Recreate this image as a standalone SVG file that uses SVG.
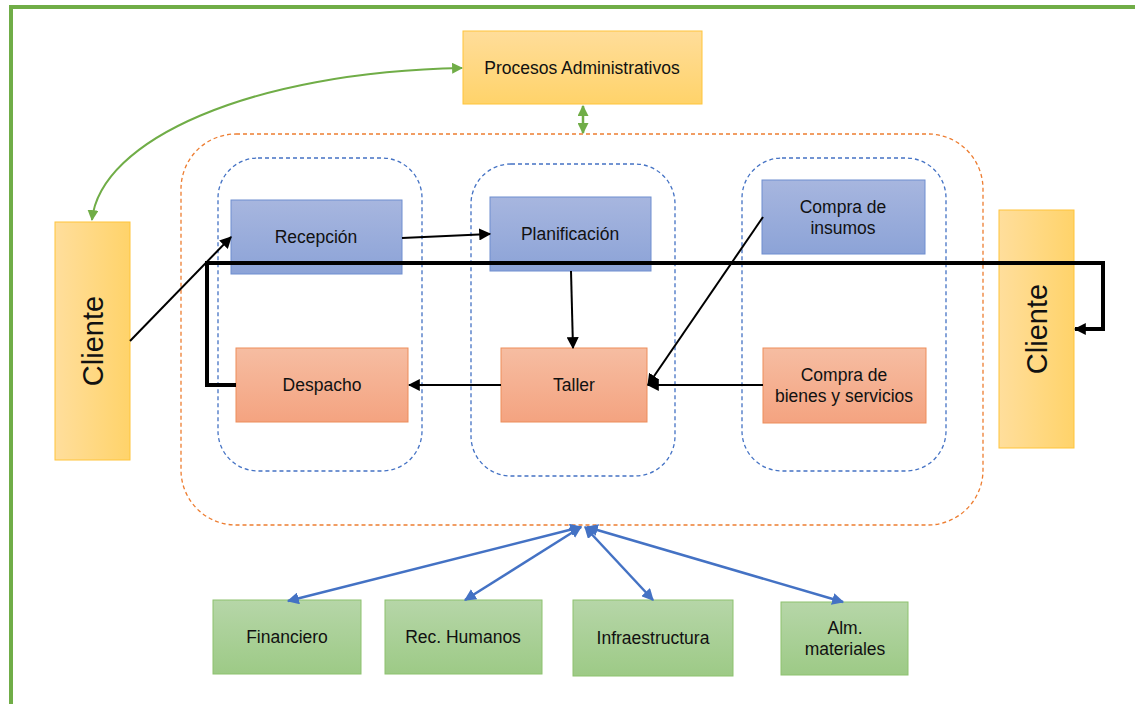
<svg xmlns="http://www.w3.org/2000/svg" width="1135" height="704" viewBox="0 0 1135 704">
<defs>
<linearGradient id="gy" x1="0" y1="0" x2="0" y2="1"><stop offset="0" stop-color="#FFDD9A"/><stop offset="1" stop-color="#FFD36A"/></linearGradient>
<linearGradient id="gyh" x1="0" y1="0" x2="1" y2="0"><stop offset="0" stop-color="#FFDE9C"/><stop offset="1" stop-color="#FFD36A"/></linearGradient>
<linearGradient id="gb" x1="0" y1="0" x2="0" y2="1"><stop offset="0" stop-color="#A7B6DF"/><stop offset="1" stop-color="#8CA3D7"/></linearGradient>
<linearGradient id="go" x1="0" y1="0" x2="0" y2="1"><stop offset="0" stop-color="#F6BDA2"/><stop offset="1" stop-color="#F4A380"/></linearGradient>
<linearGradient id="gg" x1="0" y1="0" x2="0" y2="1"><stop offset="0" stop-color="#B6D6A8"/><stop offset="1" stop-color="#9DCA86"/></linearGradient>
<marker id="ag" viewBox="0 0 10 10" refX="9" refY="5" markerWidth="11" markerHeight="11" orient="auto-start-reverse" markerUnits="userSpaceOnUse"><path d="M0,0 L10,5 L0,10 z" fill="#70AD47"/></marker>
<marker id="ab" viewBox="0 0 10 10" refX="9" refY="5" markerWidth="12" markerHeight="12" orient="auto-start-reverse" markerUnits="userSpaceOnUse"><path d="M0,0 L10,5 L0,10 z" fill="#4472C4"/></marker>
<marker id="ab2" viewBox="0 0 10 10" refX="9" refY="5" markerWidth="12" markerHeight="12" orient="auto-start-reverse" markerUnits="userSpaceOnUse"><path d="M0,0 L10,5 L0,10 z" fill="#000"/></marker>
</defs>
<style>
text{font-family:"Liberation Sans",Arial,sans-serif;fill:#111;text-anchor:middle;dominant-baseline:central}
.t{font-size:17.5px}
.cl{font-size:29px}
.y{fill:url(#gy);stroke:#FFC43A;stroke-width:1}
.yh{fill:url(#gyh);stroke:#FFC43A;stroke-width:1}
.b{fill:url(#gb);stroke:#6E8ED0;stroke-width:1}
.o{fill:url(#go);stroke:#ED8D5A;stroke-width:1}
.g{fill:url(#gg);stroke:#8DC26F;stroke-width:1}
.bk{stroke:#000;stroke-width:2;fill:none}
</style>
<rect width="1135" height="704" fill="#fff"/>
<path d="M11,704 V7 H1135" fill="none" stroke="#70AD47" stroke-width="4"/>
<g id="groups" fill="none" stroke-dasharray="4,3" stroke-width="1.3">
<rect x="181" y="134" width="802" height="391" rx="55" stroke="#ED7D31"/>
<rect x="218" y="158" width="204" height="313" rx="40" stroke="#4472C4"/>
<rect x="471" y="164" width="204" height="312" rx="40" stroke="#4472C4"/>
<rect x="742" y="158" width="204" height="313" rx="40" stroke="#4472C4"/>
</g>
<g id="n-proc"><rect class="y" x="463" y="31" width="239" height="73"/><text class="t" x="582" y="68">Procesos Administrativos</text></g>
<g id="n-cli1"><rect class="yh" x="55" y="222" width="75" height="238"/><text class="cl" transform="translate(93,341) rotate(-90)">Cliente</text></g>
<g id="n-cli2"><rect class="yh" x="999" y="210" width="75" height="238"/><text class="cl" transform="translate(1037,329) rotate(-90)">Cliente</text></g>
<g id="n-rec"><rect class="b" x="231" y="200" width="171" height="74"/><text class="t" x="316" y="237">Recepción</text></g>
<g id="n-plan"><rect class="b" x="490" y="197" width="161" height="74"/><text class="t" x="570" y="234">Planificación</text></g>
<g id="n-ins"><rect class="b" x="762" y="180" width="163" height="74"/><text class="t" x="843" y="207">Compra de</text><text class="t" x="843" y="228">insumos</text></g>
<g id="n-desp"><rect class="o" x="236" y="348" width="172" height="74"/><text class="t" x="322" y="385">Despacho</text></g>
<g id="n-tall"><rect class="o" x="501" y="348" width="146" height="74"/><text class="t" x="574" y="385">Taller</text></g>
<g id="n-bien"><rect class="o" x="763" y="348" width="163" height="75"/><text class="t" x="844" y="375">Compra de</text><text class="t" x="844" y="396">bienes y servicios</text></g>
<g id="n-fin"><rect class="g" x="213" y="600" width="148" height="74"/><text class="t" x="287" y="637">Financiero</text></g>
<g id="n-rh"><rect class="g" x="385" y="600" width="157" height="74"/><text class="t" x="463" y="637">Rec. Humanos</text></g>
<g id="n-inf"><rect class="g" x="573" y="600" width="160" height="76"/><text class="t" x="653" y="638">Infraestructura</text></g>
<g id="n-alm"><rect class="g" x="781" y="602" width="127" height="73"/><text class="t" x="845" y="628">Alm.</text><text class="t" x="845" y="649">materiales</text></g>
<g id="connectors">
<path d="M92,220 C100,140 250,72 462,68" fill="none" stroke="#70AD47" stroke-width="2" marker-start="url(#ag)" marker-end="url(#ag)"/>
<path d="M583,106 V133" fill="none" stroke="#70AD47" stroke-width="2.5" marker-start="url(#ag)" marker-end="url(#ag)"/>
<g stroke="#4472C4" stroke-width="2.5" fill="none">
<path d="M581,527 L288,601" marker-start="url(#ab)" marker-end="url(#ab)"/>
<path d="M581,527 L465,600" marker-start="url(#ab)" marker-end="url(#ab)"/>
<path d="M585,527 L653,600" marker-start="url(#ab)" marker-end="url(#ab)"/>
<path d="M587,527 L843,602" marker-start="url(#ab)" marker-end="url(#ab)"/>
</g>
<path class="bk" d="M130,341 L231,237" marker-end="url(#ab2)"/>
<path class="bk" d="M402,238 L490,234" marker-end="url(#ab2)"/>
<path class="bk" d="M571,271 L573,348" marker-end="url(#ab2)"/>
<path class="bk" d="M763,217 L648,385" marker-end="url(#ab2)"/>
<path class="bk" d="M763,385 L648,385" marker-end="url(#ab2)"/>
<path class="bk" d="M501,385 L409,385" marker-end="url(#ab2)"/>
<path d="M236,385 H207 V263 H1103 V329 H1075" fill="none" stroke="#000" stroke-width="4" marker-end="url(#ab2)"/>
</g>
</svg>
